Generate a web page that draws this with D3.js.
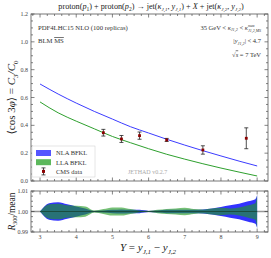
<!DOCTYPE html>
<html>
<head>
<meta charset="utf-8">
<script src="https://cdn.jsdelivr.net/npm/d3@7"></script>
<style>
  body { margin: 0; background: #fff; }
  svg { display: block; }
  text { font-family: "Liberation Serif", "DejaVu Serif", serif; }
</style>
</head>
<body>
<div id="vis"></div>
<script>
// rapidity grid for the theory curves
var curveY = [3, 3.5, 4, 4.5, 5, 5.5, 6, 6.5, 7, 7.5, 8, 8.5, 9];
var nlaC3 = [0.697, 0.625, 0.56, 0.50, 0.445, 0.39, 0.345, 0.30, 0.258, 0.218, 0.18, 0.143, 0.108];
var llaC3 = [0.568, 0.49, 0.43, 0.375, 0.32, 0.275, 0.232, 0.192, 0.157, 0.124, 0.093, 0.064, 0.036];

// CMS data
var cmsY = [4.75, 5.25, 5.75, 6.5, 7.5, 8.7];
var cmsVal = [0.347, 0.302, 0.326, 0.295, 0.223, 0.307];
var cmsErr = [0.024, 0.025, 0.026, 0.011, 0.030, 0.075];

// ratio bands (half widths, in units of 1e-3)
var bandY = [3, 3.25, 3.5, 3.75, 4, 4.25, 4.5, 4.75, 5, 5.25, 5.5, 5.75, 6, 6.25, 6.5, 6.75, 7, 7.25, 7.5, 7.75, 8, 8.25, 8.5, 8.75, 8.95, 9];
var nlaBand = [0, 4, 4.5, 3.5, 2.5, 1.5, 0.3, 0.5, 0.8, 1, 0.8, 0.8, 0.3, 0.5, 0.8, 0.8, 0.8, 0.8, 1, 1.5, 2.2, 3, 3.8, 5, 6, 8];
var llaBand = [0, 3.5, 3.8, 3, 2.8, 2.5, 0.5, 1.2, 2, 2, 1.2, 0.5, 0.3, 0.8, 1.2, 1.5, 1.8, 1.2, 1, 1.5, 1.8, 1.5, 2, 3, 4, 8];

var yTicksMain = [0, 0.2, 0.4, 0.6, 0.8, 1.0, 1.2];
var yTicksRatio = [0.99, 1.00, 1.01];
var xTicks = [3, 4, 5, 6, 7, 8, 9];

var W = 271, H = 258;
var L = 31, R = 268;
var main = {top: 14, bottom: 181};
var low = {top: 191, bottom: 232};

var svg = d3.select("#vis").append("svg")
  .attr("width", W).attr("height", H);

var x = d3.scaleLinear().domain([2.75, 9.3]).range([L, R]);
var yMain = d3.scaleLinear().domain([0, 1.2]).range([main.bottom, main.top]);
var yLow = d3.scaleLinear().domain([0.99, 1.01]).range([low.bottom, low.top]);

function frame(y0, y1, yScale, yMajor, yMinorStep, yFmt, showX) {
  var g = svg.append("g");
  // minor + major ticks on all sides, inward
  var xMinor = d3.range(2.8, 9.31, 0.2);
  xMinor.forEach(function(v) {
    var major = Math.abs(v - Math.round(v)) < 1e-6;
    var len = major ? 3.5 : 2;
    g.append("line").attr("x1", x(v)).attr("x2", x(v)).attr("y1", y1).attr("y2", y1 - len)
      .attr("stroke", "#333").attr("stroke-width", 0.6);
    g.append("line").attr("x1", x(v)).attr("x2", x(v)).attr("y1", y0).attr("y2", y0 + len)
      .attr("stroke", "#333").attr("stroke-width", 0.6);
  });
  var d = yScale.domain();
  d3.range(d[0], d[1] + yMinorStep / 2, yMinorStep).forEach(function(v) {
    var major = yMajor.some(function(m) { return Math.abs(m - v) < yMinorStep / 10; });
    var len = major ? 3.5 : 2;
    g.append("line").attr("x1", L).attr("x2", L + len).attr("y1", yScale(v)).attr("y2", yScale(v))
      .attr("stroke", "#333").attr("stroke-width", 0.6);
    g.append("line").attr("x1", R).attr("x2", R - len).attr("y1", yScale(v)).attr("y2", yScale(v))
      .attr("stroke", "#333").attr("stroke-width", 0.6);
  });
  yMajor.forEach(function(v) {
    g.append("text").attr("x", L - 3).attr("y", yScale(v) + 2)
      .attr("text-anchor", "end").attr("font-size", 6).attr("fill", "#444")
      .text(d3.format(yFmt)(v));
  });
  if (showX) {
    xTicks.forEach(function(v) {
      g.append("text").attr("x", x(v)).attr("y", y1 + 7)
        .attr("text-anchor", "middle").attr("font-size", 6).attr("fill", "#444").text(v);
    });
  }
  g.append("rect").attr("x", L).attr("y", y0).attr("width", R - L).attr("height", y1 - y0)
    .attr("fill", "none").attr("stroke", "#555").attr("stroke-width", 0.8);
}

// ---- main panel ----
var line = d3.line().curve(d3.curveMonotoneX)
  .x(function(d) { return x(d[0]); })
  .y(function(d) { return yMain(d[1]); });

svg.append("path").datum(d3.zip(curveY, llaC3)).attr("d", line)
  .attr("fill", "none").attr("stroke", "#2ea02e").attr("stroke-width", 1);
svg.append("path").datum(d3.zip(curveY, nlaC3)).attr("d", line)
  .attr("fill", "none").attr("stroke", "#3c3cff").attr("stroke-width", 1);

var pts = svg.selectAll(".cms").data(d3.range(cmsY.length)).enter().append("g");
pts.append("line")
  .attr("x1", function(i) { return x(cmsY[i]); }).attr("x2", function(i) { return x(cmsY[i]); })
  .attr("y1", function(i) { return yMain(cmsVal[i] - cmsErr[i]); })
  .attr("y2", function(i) { return yMain(cmsVal[i] + cmsErr[i]); })
  .attr("stroke", "#222").attr("stroke-width", 0.8);
[-1, 1].forEach(function(s) {
  pts.append("line")
    .attr("x1", function(i) { return x(cmsY[i]) - 2; }).attr("x2", function(i) { return x(cmsY[i]) + 2; })
    .attr("y1", function(i) { return yMain(cmsVal[i] + s * cmsErr[i]); })
    .attr("y2", function(i) { return yMain(cmsVal[i] + s * cmsErr[i]); })
    .attr("stroke", "#222").attr("stroke-width", 0.8);
});
pts.append("rect")
  .attr("x", function(i) { return x(cmsY[i]) - 1.4; })
  .attr("y", function(i) { return yMain(cmsVal[i]) - 1.4; })
  .attr("width", 2.8).attr("height", 2.8).attr("fill", "#8b0000");

frame(main.top, main.bottom, yMain, yTicksMain, 0.05, ".1f", false);

// legend
var leg = svg.append("g");
leg.append("rect").attr("x", L + 1).attr("y", 146).attr("width", 63).attr("height", 31)
  .attr("fill", "#fff").attr("stroke", "#ccc").attr("stroke-width", 0.5);
var legItems = [["NLA BFKL", "#5555ff"], ["LLA BFKL", "#5cb85c"], ["CMS data", null]];
legItems.forEach(function(it, i) {
  var cy = 153 + i * 9.2;
  if (it[1]) {
    leg.append("rect").attr("x", 36).attr("y", cy - 3).attr("width", 15).attr("height", 6).attr("fill", it[1]);
  } else {
    leg.append("line").attr("x1", 43.5).attr("x2", 43.5).attr("y1", cy - 3.5).attr("y2", cy + 3.5)
      .attr("stroke", "#222").attr("stroke-width", 0.8);
    leg.append("line").attr("x1", 41.5).attr("x2", 45.5).attr("y1", cy - 3.5).attr("y2", cy - 3.5)
      .attr("stroke", "#222").attr("stroke-width", 0.8);
    leg.append("line").attr("x1", 41.5).attr("x2", 45.5).attr("y1", cy + 3.5).attr("y2", cy + 3.5)
      .attr("stroke", "#222").attr("stroke-width", 0.8);
    leg.append("rect").attr("x", 42).attr("y", cy - 1.5).attr("width", 3).attr("height", 3).attr("fill", "#8b0000");
  }
  leg.append("text").attr("x", 56).attr("y", cy + 2.3).attr("font-size", 6.5).attr("fill", "#333").text(it[0]);
});

svg.append("text").attr("x", 128).attr("y", 174).attr("font-size", 6)
  .attr("font-family", "DejaVu Sans Mono, monospace").attr("fill", "#aaa").text("JETHAD v0.2.7");

// annotations
svg.append("text").attr("x", 38).attr("y", 29.5).attr("font-size", 6.7).attr("fill", "#333")
  .text("PDF4LHC15 NLO (100 replicas)");
var blm = svg.append("text").attr("x", 38).attr("y", 43).attr("font-size", 6.7).attr("fill", "#333");
blm.append("tspan").text("BLM ");
blm.append("tspan").attr("text-decoration", "overline").text("MS");

// kappa range: superscript "max" and subscript stacked on the same kappa
var k = svg.append("text").attr("x", 261).attr("y", 29.5).attr("font-size", 6.5)
  .attr("text-anchor", "end").attr("fill", "#333");
k.append("tspan").text("35 GeV < ");
k.append("tspan").attr("font-style", "italic").text("κ");
k.append("tspan").attr("font-size", 4.2).attr("dy", 1.5).attr("font-style", "italic").text("J1,2");
k.append("tspan").attr("dy", -1.5).text(" < ");
k.append("tspan").attr("font-style", "italic").text("κ");
var sup = k.append("tspan").attr("font-size", 4).attr("dy", -2.6).attr("font-style", "italic").text("max");
var sub = k.append("tspan").attr("font-size", 4).attr("dy", 4.6).attr("font-style", "italic").text("J1,2,MS");
var supW = sup.node().getComputedTextLength();
sub.attr("dx", -supW);

var yr = svg.append("text").attr("x", 261).attr("y", 43).attr("font-size", 6.5)
  .attr("text-anchor", "end").attr("fill", "#333");
yr.append("tspan").text("|");
yr.append("tspan").attr("font-style", "italic").text("y");
yr.append("tspan").attr("font-size", 4.2).attr("dy", 1.5).attr("font-style", "italic").text("J1,2");
yr.append("tspan").attr("dy", -1.5).text("| < 4.7");

var rs = svg.append("text").attr("x", 261).attr("y", 56.5).attr("font-size", 6.5)
  .attr("text-anchor", "end").attr("fill", "#333");
rs.append("tspan").text("√");
rs.append("tspan").attr("font-style", "italic").attr("text-decoration", "overline").text("s");
rs.append("tspan").text(" = 7 TeV");

// title
var t = svg.append("text").attr("x", 151).attr("y", 9).attr("font-size", 8.2)
  .attr("text-anchor", "middle").attr("fill", "#222");
t.append("tspan").text("proton(");
t.append("tspan").attr("font-style", "italic").text("p");
t.append("tspan").attr("font-size", 5.5).attr("dy", 1.5).text("1");
t.append("tspan").attr("dy", -1.5).text(") + proton(");
t.append("tspan").attr("font-style", "italic").text("p");
t.append("tspan").attr("font-size", 5.5).attr("dy", 1.5).text("2");
t.append("tspan").attr("dy", -1.5).text(") → jet(");
t.append("tspan").attr("font-style", "italic").text("κ");
t.append("tspan").attr("font-size", 5).attr("dy", 1.5).attr("font-style", "italic").text("J,1");
t.append("tspan").attr("dy", -1.5).text(", ");
t.append("tspan").attr("font-style", "italic").text("y");
t.append("tspan").attr("font-size", 5).attr("dy", 1.5).attr("font-style", "italic").text("J,1");
t.append("tspan").attr("dy", -1.5).text(") + ");
t.append("tspan").attr("font-style", "italic").text("X");
t.append("tspan").text(" + jet(");
t.append("tspan").attr("font-style", "italic").text("κ");
t.append("tspan").attr("font-size", 5).attr("dy", 1.5).attr("font-style", "italic").text("J,2");
t.append("tspan").attr("dy", -1.5).text(", ");
t.append("tspan").attr("font-style", "italic").text("y");
t.append("tspan").attr("font-size", 5).attr("dy", 1.5).attr("font-style", "italic").text("J,2");
t.append("tspan").attr("dy", -1.5).text(")");

// y label main
var yl = svg.append("text").attr("transform", "translate(15," + ((main.top + main.bottom) / 2) + ") rotate(-90)")
  .attr("text-anchor", "middle").attr("font-size", 11).attr("fill", "#222");
yl.append("tspan").text("⟨cos 3");
yl.append("tspan").attr("font-style", "italic").text("φ");
yl.append("tspan").text("⟩ = ");
yl.append("tspan").attr("font-style", "italic").text("C");
yl.append("tspan").attr("font-size", 7).attr("dy", 2.5).text("3");
yl.append("tspan").attr("dy", -2.5).attr("font-style", "italic").text("/C");
yl.append("tspan").attr("font-size", 7).attr("dy", 2.5).text("0");

// ---- ratio panel ----
function area(arr) {
  return d3.area().curve(d3.curveMonotoneX)
    .x(function(d, i) { return x(bandY[i]); })
    .y0(function(d, i) { return yLow(1 - arr[i] / 1000); })
    .y1(function(d, i) { return yLow(1 + arr[i] / 1000); });
}
svg.append("line").attr("x1", L).attr("x2", R).attr("y1", yLow(1)).attr("y2", yLow(1))
  .attr("stroke", "#999").attr("stroke-width", 1.6);
svg.append("path").datum(nlaBand).attr("d", area(nlaBand)).attr("fill", "#3333ff");
svg.append("path").datum(llaBand).attr("d", area(llaBand)).attr("fill", "#229922").attr("fill-opacity", 0.62);
svg.append("line").attr("x1", x(3)).attr("x2", x(9)).attr("y1", yLow(1)).attr("y2", yLow(1))
  .attr("stroke", "#1a4d40").attr("stroke-width", 1.2);

frame(low.top, low.bottom, yLow, yTicksRatio, 0.0025, ".2f", true);

var rl = svg.append("text").attr("transform", "translate(15," + ((low.top + low.bottom) / 2) + ") rotate(-90)")
  .attr("text-anchor", "middle").attr("font-size", 9.5).attr("fill", "#222");
rl.append("tspan").attr("font-style", "italic").text("R");
rl.append("tspan").attr("font-size", 6).attr("dy", 2).text("300");
rl.append("tspan").attr("dy", -2).text("/mean");

var xl = svg.append("text").attr("x", 148).attr("y", 251).attr("text-anchor", "middle")
  .attr("font-size", 11).attr("fill", "#222");
xl.append("tspan").attr("font-style", "italic").text("Y");
xl.append("tspan").text(" = ");
xl.append("tspan").attr("font-style", "italic").text("y");
xl.append("tspan").attr("font-size", 7).attr("dy", 2.5).attr("font-style", "italic").text("J,1");
xl.append("tspan").attr("dy", -2.5).text(" − ");
xl.append("tspan").attr("font-style", "italic").text("y");
xl.append("tspan").attr("font-size", 7).attr("dy", 2.5).attr("font-style", "italic").text("J,2");
</script>
</body>
</html>
